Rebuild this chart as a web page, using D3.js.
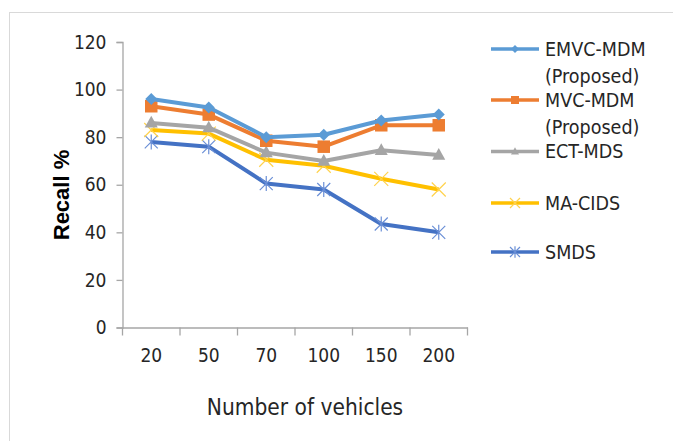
<!DOCTYPE html>
<html>
<head>
<meta charset="utf-8">
<script src="https://cdn.jsdelivr.net/npm/d3@7"></script>
<style>
  html, body { margin: 0; padding: 0; background: #ffffff; }
  svg { display: block; }
  .narrow { font-family: "DejaVu Sans Condensed", "Liberation Sans Narrow", sans-serif; }
</style>
</head>
<body>
<svg id="chart" width="673" height="441"></svg>
<script>
// Recall (%) per detection scheme, by number of vehicles
const vehicles = ["20", "50", "70", "100", "150", "200"];
const yTicks = [0, 20, 40, 60, 80, 100, 120];

const emvcMdm = [96, 92.5, 80, 81, 87, 89.5];
const mvcMdm  = [93, 89.5, 78.5, 76, 85, 85];
const ectMds  = [86, 84, 73.5, 70, 74.5, 72.5];
const maCids  = [83, 81.5, 70.5, 68, 62.5, 58];
const smds    = [78, 76, 60.5, 58, 43.5, 40];

const seriesNames = [["EMVC-MDM", "(Proposed)"], ["MVC-MDM", "(Proposed)"], ["ECT-MDS"], ["MA-CIDS"], ["SMDS"]];

const series = [
  { name: seriesNames[0], values: emvcMdm, color: "#5B9BD5", marker: "diamond" },
  { name: seriesNames[1], values: mvcMdm,  color: "#ED7D31", marker: "square" },
  { name: seriesNames[2], values: ectMds,  color: "#A5A5A5", marker: "triangle" },
  { name: seriesNames[3], values: maCids,  color: "#FFC000", marker: "x" },
  { name: seriesNames[4], values: smds,    color: "#4472C4", marker: "star" }
];

const svg = d3.select("#chart");

// outer chart frame
svg.append("rect")
  .attr("x", 9.5).attr("y", 12.5)
  .attr("width", 700).attr("height", 460)
  .attr("fill", "none").attr("stroke", "#d9d9d9").attr("stroke-width", 1);

const plot = { left: 122.5, right: 467.5, top: 42, bottom: 327.5 };

const x = d3.scaleBand().domain(vehicles).range([plot.left, plot.right]);
const y = d3.scaleLinear().domain([0, 120]).range([plot.bottom, plot.top]);

const axisColor = "#a6a6a6";
const textColor = "#262626";

// y axis
const yAxis = svg.append("g")
  .attr("transform", `translate(${plot.left},0)`)
  .call(d3.axisLeft(y).tickValues(yTicks).tickSize(6).tickPadding(10).tickFormat(d3.format("d")));
yAxis.select(".domain").attr("stroke", axisColor).attr("stroke-width", 1.3);
yAxis.selectAll(".tick line").attr("stroke", axisColor).attr("stroke-width", 1.3);
yAxis.selectAll(".tick text")
  .attr("class", "narrow")
  .attr("font-size", 19).attr("fill", textColor);

// x axis, ticks sit on the band boundaries
const xAxis = svg.append("g")
  .attr("transform", `translate(0,${plot.bottom})`)
  .call(d3.axisBottom(x).tickSize(0).tickPadding(21));
xAxis.select(".domain").attr("stroke", axisColor).attr("stroke-width", 1.3);
xAxis.selectAll(".tick text")
  .attr("class", "narrow")
  .attr("font-size", 19).attr("fill", textColor);

const bounds = vehicles.map(v => x(v)).concat([plot.right]);
xAxis.selectAll("line.bound")
  .data(bounds)
  .join("line")
  .attr("class", "bound")
  .attr("x1", d => d).attr("x2", d => d)
  .attr("y1", 0).attr("y2", 8)
  .attr("stroke", axisColor).attr("stroke-width", 1.3);

// axis titles
svg.append("text")
  .attr("class", "narrow")
  .attr("x", 305).attr("y", 415)
  .attr("text-anchor", "middle")
  .attr("font-size", 22.5).attr("fill", textColor)
  .text("Number of vehicles");

svg.append("text")
  .attr("transform", "translate(69,195) rotate(-90)")
  .attr("text-anchor", "middle")
  .attr("font-family", "Liberation Sans, Arial, sans-serif")
  .attr("font-weight", "bold")
  .attr("font-size", 22).attr("fill", "#000000")
  .text("Recall %");

// marker shapes
function drawMarker(g, type, cx, cy, s, color) {
  if (type === "diamond") {
    g.append("path")
      .attr("d", `M${cx},${cy - s / 2}L${cx + s / 2},${cy}L${cx},${cy + s / 2}L${cx - s / 2},${cy}Z`)
      .attr("fill", color);
  } else if (type === "square") {
    g.append("rect")
      .attr("x", cx - s / 2).attr("y", cy - s / 2)
      .attr("width", s).attr("height", s)
      .attr("fill", color);
  } else if (type === "triangle") {
    const h = s * 0.9;
    g.append("path")
      .attr("d", `M${cx},${cy - h * 0.6}L${cx + s / 2},${cy + h * 0.4}L${cx - s / 2},${cy + h * 0.4}Z`)
      .attr("fill", color);
  } else if (type === "x") {
    const r = s / 2;
    g.append("path")
      .attr("d", `M${cx - r},${cy - r}L${cx + r},${cy + r}M${cx - r},${cy + r}L${cx + r},${cy - r}`)
      .attr("stroke", color).attr("stroke-width", 1.2).attr("fill", "none");
  } else if (type === "star") {
    const r = s / 2;
    g.append("path")
      .attr("d", `M${cx - r},${cy - r}L${cx + r},${cy + r}M${cx - r},${cy + r}L${cx + r},${cy - r}M${cx},${cy - r * 1.15}L${cx},${cy + r * 1.15}`)
      .attr("stroke", color).attr("stroke-width", 1.2).attr("fill", "none");
  }
}

const markerSize = { diamond: 12, square: 12.5, triangle: 13, x: 14, star: 13 };
const markerTint = { x: "#FFD24D", star: "#6A8FD6" };

const line = d3.line()
  .x((d, i) => x(vehicles[i]) + x.bandwidth() / 2)
  .y(d => y(d));

// draw from last to first so the proposed schemes sit on top
series.slice().reverse().forEach(s => {
  const g = svg.append("g");
  g.append("path")
    .datum(s.values)
    .attr("d", line)
    .attr("fill", "none")
    .attr("stroke", s.color)
    .attr("stroke-width", 4)
    .attr("stroke-linejoin", "round");
  s.values.forEach((v, i) => {
    drawMarker(g, s.marker, x(vehicles[i]) + x.bandwidth() / 2, y(v),
      markerSize[s.marker], markerTint[s.marker] || s.color);
  });
});

// legend
const legendRows = [49, 100, 151.5, 203, 252];
const legend = svg.append("g");
series.forEach((s, i) => {
  const ly = legendRows[i];
  legend.append("line")
    .attr("x1", 491).attr("x2", 539)
    .attr("y1", ly).attr("y2", ly)
    .attr("stroke", s.color).attr("stroke-width", 3.5);
  const legendSize = { diamond: 8, square: 8, triangle: 8, x: 10, star: 10 }[s.marker];
  drawMarker(legend, s.marker, 515, ly, legendSize, markerTint[s.marker] || s.color);
  s.name.forEach((t, j) => {
    legend.append("text")
      .attr("class", "narrow")
      .attr("x", 545).attr("y", ly + j * 27)
      .attr("dy", "0.35em")
      .attr("font-size", 19.5).attr("fill", textColor)
      .text(t);
  });
});
</script>
</body>
</html>
